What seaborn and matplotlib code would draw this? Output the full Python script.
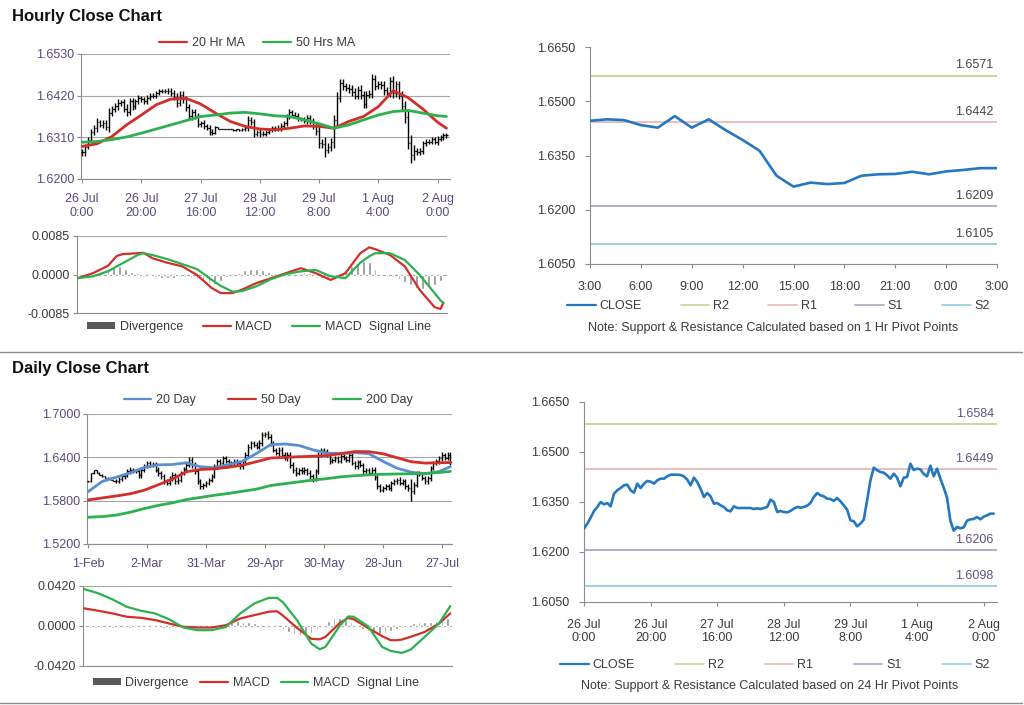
import numpy as np
import matplotlib
matplotlib.use("Agg")
import matplotlib.pyplot as plt
import seaborn as sns
from matplotlib.lines import Line2D
from matplotlib.patches import Patch

# ---------------------------------------------------------------- data
hourly_close = [
    1.6270, 1.6285, 1.6303, 1.6323, 1.6335, 1.6350, 1.6343, 1.6347, 1.6337, 1.6375,
    1.6385, 1.6392, 1.6400, 1.6402, 1.6385, 1.6378, 1.6405, 1.6392, 1.6405, 1.6413,
    1.6411, 1.6405, 1.6415, 1.6420, 1.6420, 1.6427, 1.6432, 1.6432, 1.6432, 1.6431,
    1.6427, 1.6417, 1.6400, 1.6423, 1.6410, 1.6390, 1.6365, 1.6377, 1.6367, 1.6345,
    1.6347, 1.6340, 1.6335, 1.6325, 1.6322, 1.6337, 1.6332, 1.6332, 1.6332, 1.6332,
    1.6332, 1.6329, 1.6331, 1.6329, 1.6332, 1.6335, 1.6357, 1.6350, 1.6320, 1.6323,
    1.6320, 1.6319, 1.6323, 1.6330, 1.6335, 1.6333, 1.6335, 1.6339, 1.6347, 1.6365,
    1.6377, 1.6370, 1.6367, 1.6360, 1.6359, 1.6353, 1.6362, 1.6352, 1.6340, 1.6327,
    1.6295, 1.6292, 1.6277, 1.6285, 1.6297, 1.6355, 1.6415, 1.6453, 1.6445, 1.6440,
    1.6438, 1.6430, 1.6420, 1.6435, 1.6423, 1.6397, 1.6423, 1.6425, 1.6465, 1.6446,
    1.6450, 1.6448, 1.6434, 1.6427, 1.6459, 1.6427, 1.6450, 1.6420, 1.6393, 1.6363,
    1.6294, 1.6264, 1.6275, 1.6271, 1.6274, 1.6294, 1.6298, 1.6299, 1.6305, 1.6298,
    1.6306, 1.6310, 1.6315, 1.6315]
hourly_wick_pips = [
    10, 8, 7, 9, 8, 10, 7, 9, 8, 12,
    9, 8, 10, 7, 9, 12, 8, 9, 7, 8,
    7, 6, 8, 6, 7, 5, 6, 5, 6, 7,
    8, 9, 10, 8, 9, 10, 9, 8, 9, 8,
    7, 8, 6, 8, 7, 4, 1, 1, 1, 1,
    1, 1, 1, 1, 2, 5, 9, 8, 9, 7,
    8, 6, 6, 5, 6, 5, 7, 8, 7, 6,
    7, 6, 6, 7, 5, 6, 7, 6, 9, 10,
    12, 10, 18, 9, 12, 15, 14, 12, 10, 9,
    11, 10, 9, 10, 12, 9, 10, 9, 12, 10,
    9, 10, 12, 9, 10, 12, 10, 9, 12, 14,
    16, 22, 15, 8, 8, 7, 7, 6, 7, 6,
    7, 6, 7, 6]
hourly_tick_idx = [0, 20, 40, 60, 80, 100, 120]
hourly_tick_labels = ["26 Jul\n0:00", "26 Jul\n20:00", "27 Jul\n16:00", "28 Jul\n12:00",
                      "29 Jul\n8:00", "1 Aug\n4:00", "2 Aug\n0:00"]
hourly_ma_idx = [0, 5, 10, 15, 20, 25, 30, 35, 40, 45, 50, 55, 60, 65, 70, 75, 80, 85,
                 90, 95, 100, 105, 110, 115, 120, 123]
hourly_ma20 = [1.6286, 1.6293, 1.6312, 1.6343, 1.6369, 1.6396, 1.6411, 1.6413, 1.6398, 1.6374,
               1.6352, 1.6339, 1.6332, 1.6330, 1.6334, 1.6340, 1.6339, 1.6334, 1.6352, 1.6365,
               1.6391, 1.6433, 1.6415, 1.6385, 1.6350, 1.6334]
hourly_ma50 = [1.6297, 1.6299, 1.6304, 1.6311, 1.6321, 1.6332, 1.6343, 1.6354, 1.6365, 1.6369,
               1.6374, 1.6376, 1.6372, 1.6367, 1.6365, 1.6356, 1.6346, 1.6334, 1.6343, 1.6356,
               1.6369, 1.6378, 1.6381, 1.6374, 1.6367, 1.6365]
hourly_macd_idx = [0, 5, 10, 13, 15, 20, 22, 25, 30, 35, 40, 45, 48, 52, 55, 60, 65, 70, 75, 80,
                   85, 90, 95, 98, 100, 105, 110, 115, 120, 122, 123]
hourly_macd = [-0.0008, 0.0003, 0.0019, 0.0041, 0.0045, 0.0047, 0.0048, 0.0036, 0.0026, 0.0018,
               -0.0001, -0.0030, -0.0041, -0.0041, -0.0034, -0.0019, -0.0008, 0.0003, 0.0014, 0.0003,
               -0.0012, 0.0003, 0.0047, 0.0060, 0.0056, 0.0043, 0.0018, -0.0034, -0.0072, -0.0076,
               -0.0062]
hourly_signal = [-0.0008, -0.0004, 0.0007, 0.0018, 0.0025, 0.0043, 0.0047, 0.0043, 0.0034, 0.0023,
                 0.0012, -0.0012, -0.0025, -0.0038, -0.0037, -0.0026, -0.0010, 0.0001, 0.0007, 0.0010,
                 -0.0004, -0.0008, 0.0026, 0.0040, 0.0047, 0.0047, 0.0032, -0.0001, -0.0041, -0.0057,
                 -0.0063]
hourly_divergence = [-0.0002, -0.0001, 0.0002, 0.0004, 0.0008, 0.0012, 0.0016, 0.0018, 0.0012, 0.0006,
                     0.0003, 0.0001, -0.0003, -0.0005, -0.0007, -0.0008, -0.0007, -0.0006, -0.0005, -0.0008,
                     -0.0010, -0.0014, -0.0018, -0.0020, -0.0014, -0.0006, -0.0001, 0.0004, 0.0009, 0.0012,
                     0.0012, 0.0010, 0.0006, 0.0003, 0.0001, 0.0001, 0.0002, 0.0004, 0.0005, 0.0003,
                     -0.0003, -0.0007, -0.0008, -0.0005, 0.0002, 0.0010, 0.0018, 0.0025, 0.0030, 0.0028,
                     0.0012, -0.0004, -0.0005, -0.0006, -0.0010, -0.0016, -0.0024, -0.0030, -0.0032, -0.0028,
                     -0.0024, -0.0015]
hourly_div_step = 2

pivot1_tick_labels = ["3:00", "6:00", "9:00", "12:00", "15:00", "18:00", "21:00", "0:00", "3:00"]
pivot1_levels = {"R2": 1.6571, "R1": 1.6442, "S1": 1.6209, "S2": 1.6105}
pivot24_levels = {"R2": 1.6584, "R1": 1.6449, "S1": 1.6206, "S2": 1.6098}

daily_close = [
    1.6066, 1.6180, 1.6225, 1.6190, 1.6160, 1.6135, 1.6120, 1.6100, 1.6085, 1.6075,
    1.6076, 1.6104, 1.6136, 1.6159, 1.6205, 1.6228, 1.6214, 1.6205, 1.6150, 1.6228,
    1.6274, 1.6320, 1.6297, 1.6306, 1.6228, 1.6182, 1.6136, 1.6067, 1.6044, 1.6113,
    1.6159, 1.6067, 1.6090, 1.6182, 1.6242, 1.6297, 1.6366, 1.6297, 1.6205, 1.6067,
    1.5998, 1.6021, 1.6044, 1.6090, 1.6136, 1.6274, 1.6343, 1.6320, 1.6389, 1.6343,
    1.6297, 1.6320, 1.6343, 1.6320, 1.6274, 1.6343, 1.6435, 1.6550, 1.6596, 1.6573,
    1.6550, 1.6596, 1.6711, 1.6720, 1.6688, 1.6596, 1.6504, 1.6458, 1.6504, 1.6435,
    1.6389, 1.6435, 1.6297, 1.6228, 1.6182, 1.6228, 1.6205, 1.6228, 1.6182, 1.6136,
    1.6104, 1.6205, 1.6435, 1.6504, 1.6481, 1.6435, 1.6343, 1.6366, 1.6389, 1.6352,
    1.6412, 1.6389, 1.6366, 1.6435, 1.6320, 1.6274, 1.6330, 1.6297, 1.6205, 1.6228,
    1.6182, 1.6228, 1.6122, 1.5998, 1.5952, 1.5975, 1.5998, 1.5975, 1.6044, 1.6067,
    1.6090, 1.6044, 1.6067, 1.5998, 1.5975, 1.5929, 1.6021, 1.6182, 1.6168, 1.6113,
    1.6067, 1.6113, 1.6251, 1.6320, 1.6343, 1.6389, 1.6435, 1.6389, 1.6435, 1.6330]
daily_wick_pips = [
    5, 5, 5, 5, 5, 5, 5, 5, 5, 8,
    30, 25, 35, 30, 28, 32, 30, 25, 35, 30,
    30, 28, 35, 30, 32, 35, 30, 38, 32, 30,
    35, 30, 32, 28, 30, 35, 32, 38, 40, 35,
    32, 30, 35, 30, 32, 28, 30, 35, 30, 28,
    30, 32, 28, 30, 35, 32, 38, 35, 30, 32,
    35, 38, 40, 35, 38, 40, 35, 32, 38, 35,
    32, 35, 40, 38, 35, 30, 32, 35, 30, 38,
    40, 35, 38, 32, 30, 35, 30, 28, 32, 30,
    30, 32, 28, 35, 32, 30, 35, 32, 30, 28,
    30, 32, 35, 38, 32, 30, 28, 30, 35, 30,
    30, 32, 28, 30, 35, 130, 38, 32, 30, 28,
    30, 32, 35, 30, 28, 32, 35, 30, 32, 35]
daily_tick_idx = [0, 21, 42, 63, 84, 105, 126]
daily_tick_labels = ["1-Feb", "2-Mar", "31-Mar", "29-Apr", "30-May", "28-Jun", "27-Jul"]
daily_ma_idx = [0, 5, 10, 15, 20, 25, 30, 35, 40, 45, 50, 55, 60, 65, 70, 75, 80, 85, 90, 95,
                100, 105, 110, 115, 120, 125, 129]
daily_ma20 = [1.5925, 1.6065, 1.6125, 1.6185, 1.6260, 1.6296, 1.6300, 1.6325, 1.6270, 1.6255,
              1.6300, 1.6345, 1.6455, 1.6575, 1.6585, 1.6565, 1.6505, 1.6458, 1.6455, 1.6465,
              1.6450, 1.6345, 1.6250, 1.6195, 1.6170, 1.6204, 1.6270]
daily_ma50 = [1.5810, 1.5838, 1.5865, 1.5895, 1.5945, 1.6020, 1.6100, 1.6200, 1.6232, 1.6240,
              1.6263, 1.6292, 1.6340, 1.6390, 1.6400, 1.6408, 1.6415, 1.6425, 1.6450, 1.6480,
              1.6478, 1.6450, 1.6395, 1.6340, 1.6320, 1.6325, 1.6328]
daily_ma200 = [1.5570, 1.5580, 1.5600, 1.5640, 1.5690, 1.5735, 1.5770, 1.5815, 1.5845, 1.5875,
               1.5900, 1.5930, 1.5960, 1.6010, 1.6035, 1.6060, 1.6085, 1.6105, 1.6130, 1.6145,
               1.6158, 1.6165, 1.6170, 1.6172, 1.6178, 1.6190, 1.6205]
daily_macd_idx = [0, 5, 10, 15, 20, 25, 30, 35, 40, 45, 50, 55, 60, 65, 68, 70, 75, 80, 83, 85,
                  90, 93, 95, 100, 105, 108, 110, 112, 115, 120, 125, 129]
daily_macd = [0.0185, 0.0160, 0.0132, 0.0097, 0.0086, 0.0062, 0.0026, -0.0009, -0.0016, -0.0016,
              0.0009, 0.0079, 0.0114, 0.0150, 0.0155, 0.0110, -0.0020, -0.0135, -0.0140, -0.0115,
              0.0030, 0.0085, 0.0070, -0.0020, -0.0107, -0.0149, -0.0150, -0.0142, -0.0114, -0.0062,
              0.0026, 0.0132]
daily_signal = [0.0388, 0.0343, 0.0279, 0.0202, 0.0160, 0.0132, 0.0069, -0.0016, -0.0044, -0.0044,
                -0.0009, 0.0132, 0.0237, 0.0295, 0.0295, 0.0250, 0.0062, -0.0185, -0.0244, -0.0220,
                0.0000, 0.0100, 0.0097, -0.0002, -0.0220, -0.0262, -0.0272, -0.0283, -0.0248, -0.0114,
                0.0026, 0.0209]
daily_divergence = [-0.0015, -0.0018, -0.0020, -0.0022, -0.0020, -0.0018, -0.0020, -0.0018, -0.0016, -0.0014,
                    -0.0012, -0.0014, -0.0012, -0.0015, -0.0018, -0.0020, -0.0018, -0.0015, -0.0010, -0.0005,
                    0.0005, 0.0008, 0.0010, 0.0012, 0.0015, 0.0025, 0.0040, 0.0050, 0.0045, 0.0040,
                    0.0035, 0.0025, 0.0015, 0.0010, -0.0010, -0.0035, -0.0060, -0.0080, -0.0095, -0.0090,
                    -0.0070, -0.0030, 0.0015, 0.0050, 0.0080, 0.0085, 0.0070, 0.0040, -0.0010, -0.0035,
                    -0.0055, -0.0070, -0.0080, -0.0075, -0.0050, -0.0030, -0.0020, 0.0010, 0.0035, 0.0045,
                    0.0045, 0.0040, 0.0055, 0.0070, 0.0085]
daily_div_step = 2

# ---------------------------------------------------------------- style
RED = "#d22f2a"
GREEN = "#2db14f"
BLUE20 = "#5b8ed0"
CLOSE_BLUE = "#2378c0"
LEVEL_COLORS = {"R2": "#c3d69b", "R1": "#e6b9b8", "S1": "#b3a2c7", "S2": "#93cddd"}
GRID = "#a6a6a6"
SPINE = "#8c8c8c"
PURPLE = "#5b4a7d"
DARK = "#3a3a3a"
FS = 9

sns.set_theme(style="white")
plt.rcParams["font.family"] = ["Liberation Sans", "DejaVu Sans"]

W, H = 1024, 705
fig = plt.figure(figsize=(W / 100, H / 100), dpi=100)
fig.patch.set_facecolor("white")


def add_ax(l, t, r, b):
    return fig.add_axes([l / W, 1 - b / H, (r - l) / W, (b - t) / H])


def base_style(ax, labelcolor, xpad, ypad, ylen=3):
    ax.set_facecolor("white")
    for s in ("top", "right"):
        ax.spines[s].set_visible(False)
    for s in ("left", "bottom"):
        ax.spines[s].set_color(SPINE)
        ax.spines[s].set_linewidth(0.8)
    ax.tick_params(axis="x", bottom=True, length=3, width=0.8, color=SPINE,
                   labelcolor=labelcolor, labelsize=FS, pad=xpad, direction="out")
    ax.tick_params(axis="y", left=True, length=ylen, width=0.8, color=SPINE,
                   labelcolor=labelcolor, labelsize=FS, pad=ypad, direction="out")


def draw_ohlc(ax, close, wick_pips, half=0.45):
    c = np.asarray(close, float)
    x = np.arange(len(c))
    o = np.r_[c[0], c[:-1]]
    w = np.asarray(wick_pips, float) / 10000.0
    hi = np.maximum(o, c) + w
    lo = np.minimum(o, c) - w
    ax.vlines(x, lo, hi, color="black", lw=1.0, zorder=3)
    ax.hlines(o, x - half, x, color="black", lw=0.9, zorder=3)
    ax.hlines(c, x, x + half, color="black", lw=0.9, zorder=3)


def line(ax, x, y, color, lw):
    sns.lineplot(x=list(x), y=list(y), ax=ax, color=color, linewidth=lw,
                 legend=False, errorbar=None, zorder=4)


def yfmt(ax, ticks):
    ax.set_yticks(ticks)
    ax.set_yticklabels([f"{t:.4f}" for t in ticks])


def center_legend(handles, labels, cx, cy, colsp):
    fig.legend(handles, labels, loc="center", bbox_to_anchor=(cx / W, 1 - cy / H),
               bbox_transform=fig.transFigure, ncol=len(handles), frameon=False,
               fontsize=FS, handlelength=2.2, handletextpad=0.4, columnspacing=colsp,
               labelcolor=DARK, handleheight=0.5, borderpad=0)


def expand_legend(handles, labels, x0, x1, cy):
    fig.legend(handles, labels, loc="center",
               bbox_to_anchor=(x0 / W, 1 - (cy + 7) / H, (x1 - x0) / W, 14 / H),
               bbox_transform=fig.transFigure, mode="expand", ncol=len(handles),
               frameon=False, fontsize=FS, handlelength=2.3, handletextpad=0.3,
               labelcolor=DARK, borderpad=0, borderaxespad=0)


def macd_panel(ax, n, idx, macd, signal, div, step, lim):
    base_style(ax, DARK, 4, 2)
    dx = np.arange(0, len(div) * step, step)
    ax.bar(dx, div, width=0.9, color="#8f8f8f", zorder=2)
    ax.axhline(0, color=GRID, lw=0.8, zorder=1)
    line(ax, idx, macd, RED, 1.6)
    line(ax, idx, signal, GREEN, 1.6)
    ax.set_ylim(-lim, lim)
    yfmt(ax, [-lim, 0.0, lim])
    ax.set_xlim(-0.4, n + 0.2)
    ax.set_xticks([])
    ax.yaxis.grid(True, color=GRID, lw=0.8)
    ax.xaxis.grid(False)
    ax.set_axisbelow(True)
    ax.set_xlabel("")
    ax.set_ylabel("")


def pivot_panel(ax, x, y, levels, label_color, xticks, xlabels, xlim):
    base_style(ax, DARK, 9, 7, ylen=3.5)
    for k in ("R2", "R1", "S1", "S2"):
        ax.axhline(levels[k], color=LEVEL_COLORS[k], lw=1.3, zorder=2)
        ax.annotate(f"{levels[k]:.4f}", xy=(0.992, levels[k]), xycoords=ax.get_yaxis_transform(),
                    xytext=(0, 3), textcoords="offset points", ha="right", va="bottom",
                    fontsize=FS, color=label_color)
    line(ax, x, y, CLOSE_BLUE, 1.9)
    ax.set_ylim(1.6050, 1.6650)
    yfmt(ax, [1.6050, 1.6200, 1.6350, 1.6500, 1.6650])
    ax.set_xlim(*xlim)
    ax.set_xticks(xticks)
    ax.set_xticklabels(xlabels)
    ax.grid(False)
    ax.set_xlabel("")
    ax.set_ylabel("")


n_h = len(hourly_close)
n_d = len(daily_close)

# ---------------------------------------------------------------- titles / separators
fig.text(12 / W, 1 - 16 / H, "Hourly Close Chart", fontsize=12, weight="bold",
         va="center", ha="left", color="#111111")
fig.text(12 / W, 1 - 368 / H, "Daily Close Chart", fontsize=12, weight="bold",
         va="center", ha="left", color="#111111")
for yy in (352, 703):
    fig.add_artist(Line2D([0, 1022 / W], [1 - yy / H, 1 - yy / H], color="#8c8c8c",
                          lw=1.0, transform=fig.transFigure))

# ---------------------------------------------------------------- hourly price
ax1 = add_ax(81, 54, 450, 179)
base_style(ax1, PURPLE, 7, 2)
draw_ohlc(ax1, hourly_close, hourly_wick_pips)
line(ax1, hourly_ma_idx, hourly_ma20, RED, 2.0)
line(ax1, hourly_ma_idx, hourly_ma50, GREEN, 2.0)
ax1.set_ylim(1.6200, 1.6530)
yfmt(ax1, [1.6200, 1.6310, 1.6420, 1.6530])
ax1.set_xlim(-0.4, n_h + 0.2)
ax1.set_xticks(hourly_tick_idx)
ax1.set_xticklabels(hourly_tick_labels)
ax1.yaxis.grid(True, color=GRID, lw=0.8)
ax1.xaxis.grid(False)
ax1.set_axisbelow(True)
ax1.set_xlabel("")
ax1.set_ylabel("")
center_legend([Line2D([], [], color=RED, lw=1.6), Line2D([], [], color=GREEN, lw=1.6)],
              ["20 Hr MA", "50 Hrs MA"], 257, 43, 1.5)

# ---------------------------------------------------------------- hourly MACD
ax2 = add_ax(77, 236, 447, 313)
macd_panel(ax2, n_h, hourly_macd_idx, hourly_macd, hourly_signal, hourly_divergence,
           hourly_div_step, 0.0085)
center_legend([Patch(facecolor="#595959", edgecolor="none"),
               Line2D([], [], color=RED, lw=1.6), Line2D([], [], color=GREEN, lw=1.6)],
              ["Divergence", "MACD", "MACD  Signal Line"], 259, 327, 1.6)

# ---------------------------------------------------------------- 1 hr pivots
ax3 = add_ax(590, 47, 997, 264)
last = hourly_close[-25:]
pivot_panel(ax3, np.arange(len(last)), last, pivot1_levels, "#454545",
            list(range(0, 25, 3)), pivot1_tick_labels, (0, 24))
lev_handles = [Line2D([], [], color=CLOSE_BLUE, lw=1.6)] + \
              [Line2D([], [], color=LEVEL_COLORS[k], lw=1.2) for k in ("R2", "R1", "S1", "S2")]
lev_labels = ["CLOSE", "R2", "R1", "S1", "S2"]
expand_legend(lev_handles, lev_labels, 567, 990, 306)
fig.text(773 / W, 1 - 328 / H, "Note: Support & Resistance Calculated based on 1 Hr Pivot Points",
         ha="center", va="center", fontsize=FS, color=DARK)

# ---------------------------------------------------------------- daily price
ax4 = add_ax(87, 414, 452, 544)
base_style(ax4, PURPLE, 7, 2)
draw_ohlc(ax4, daily_close, daily_wick_pips, half=0.45)
line(ax4, daily_ma_idx, daily_ma20, BLUE20, 2.0)
line(ax4, daily_ma_idx, daily_ma50, RED, 2.0)
line(ax4, daily_ma_idx, daily_ma200, GREEN, 2.0)
ax4.set_ylim(1.5200, 1.7000)
yfmt(ax4, [1.5200, 1.5800, 1.6400, 1.7000])
ax4.set_xlim(-0.4, n_d - 0.4)
ax4.set_xticks(daily_tick_idx)
ax4.set_xticklabels(daily_tick_labels)
ax4.yaxis.grid(True, color=GRID, lw=0.8)
ax4.xaxis.grid(False)
ax4.set_axisbelow(True)
ax4.set_xlabel("")
ax4.set_ylabel("")
center_legend([Line2D([], [], color=BLUE20, lw=1.6), Line2D([], [], color=RED, lw=1.6),
               Line2D([], [], color=GREEN, lw=1.6)],
              ["20 Day", "50 Day", "200 Day"], 268, 400, 2.6)

# ---------------------------------------------------------------- daily MACD
ax5 = add_ax(83, 586, 452, 666)
macd_panel(ax5, n_d - 0.6, daily_macd_idx, daily_macd, daily_signal, daily_divergence,
           daily_div_step, 0.0420)
center_legend([Patch(facecolor="#595959", edgecolor="none"),
               Line2D([], [], color=RED, lw=1.6), Line2D([], [], color=GREEN, lw=1.6)],
              ["Divergence", "MACD", "MACD  Signal Line"], 256, 683, 0.9)

# ---------------------------------------------------------------- 24 hr pivots
ax6 = add_ax(584, 402, 997, 602)
pivot_panel(ax6, np.arange(n_h), hourly_close, pivot24_levels, "#5f5282",
            hourly_tick_idx, hourly_tick_labels, (0, n_h))
expand_legend(lev_handles, lev_labels, 560, 990, 665)
fig.text(770 / W, 1 - 686 / H, "Note: Support & Resistance Calculated based on 24 Hr Pivot Points",
         ha="center", va="center", fontsize=FS, color=DARK)

fig.savefig("out.png", dpi=100, facecolor="white")
